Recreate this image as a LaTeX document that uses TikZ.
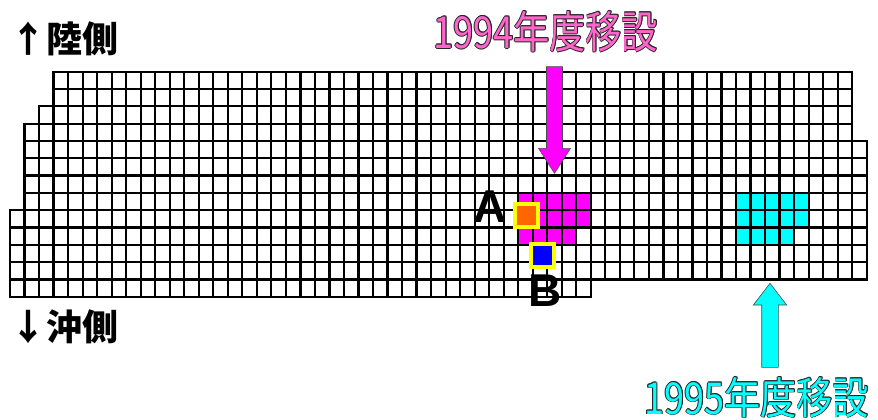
\documentclass[tikz,border=0pt]{standalone}
\usepackage{fontspec}
\setmainfont{Liberation Sans}
\newfontfamily\cjkfont[FakeStretch=0.82]{Noto Sans CJK JP}
\newfontfamily\sidefont{Noto Sans CJK JP}
\definecolor{magfill}{RGB}{255,0,255}
\definecolor{pinktext}{RGB}{255,102,204}
\definecolor{cyanfill}{RGB}{0,255,255}
\definecolor{orangefill}{RGB}{255,102,0}
\definecolor{yellowline}{RGB}{255,255,0}
\definecolor{bluefill}{RGB}{0,0,255}
\def\cw{14.52}
\def\ch{17.31}
\def\gx{10}
\def\gy{71.7}
\newcommand\outlinedlabel[4]{%
  \foreach \dx/\dy [count=\i] in {0.7/0,-0.7/0,0/0.7,0/-0.7,0.5/0.5,-0.5/0.5,0.5/-0.5,-0.5/-0.5}{
    \node[titletext, text=black!85] (#2s\i) at ([shift={(\dx,\dy)}]#1) {#4};
  }
  \node[titletext, text=#3] (#2) at (#1) {#4};
}
\tikzset{
  gridcell/.style={draw=black, line width=2.2pt},
  titletext/.style={inner sep=0pt, font=\cjkfont\fontsize{44}{44}\selectfont},
  sidetext/.style={inner sep=0pt, anchor=west, font=\sidefont\bfseries\fontsize{36}{36}\selectfont},
  bigletter/.style={inner sep=0pt, font=\bfseries\fontsize{46}{46}\selectfont},
  marksq/.style={draw=yellowline, line width=4pt, minimum size=23.3pt, inner sep=0pt},
  blockarrow/.style={draw=black!70, line width=0.6pt},
}
\begin{document}
\begin{tikzpicture}[x=1pt,y=-1pt]
\useasboundingbox (0,0) rectangle (878,420);
% coloured cells
\foreach \r/\a/\b in {7/35/39,8/35/39,9/35/38}{
  \foreach \k in {\a,...,\b}{
    \fill[magfill] ({\gx+\k*\cw},{\gy+\r*\ch}) rectangle ({\gx+(\k+1)*\cw},{\gy+(\r+1)*\ch});
  }
}
\foreach \r/\a/\b in {7/50/54,8/50/54,9/50/53}{
  \foreach \k in {\a,...,\b}{
    \fill[cyanfill] ({\gx+\k*\cw},{\gy+\r*\ch}) rectangle ({\gx+(\k+1)*\cw},{\gy+(\r+1)*\ch});
  }
}
% grid
\foreach \r/\L/\R in {0/3/58,1/3/58,2/2/58,3/1/58,4/1/59,5/1/59,6/1/59,7/1/59,8/0/59,9/0/59,10/0/59,11/0/59,12/0/40}{
  \pgfmathtruncatemacro\Rm{\R-1}
  \foreach \k in {\L,...,\Rm}{
    \draw[gridcell] ({\gx+\k*\cw},{\gy+\r*\ch}) rectangle ({\gx+(\k+1)*\cw},{\gy+(\r+1)*\ch});
  }
}
% block arrows
\fill[magfill, blockarrow] (546.5,66.7) -- (562.5,66.7) -- (562.5,148.3) -- (570.5,148.3) -- (554.5,173.3) -- (538.5,148.3) -- (546.5,148.3) -- cycle;
\fill[cyanfill, blockarrow] (761.7,367.3) -- (778.3,367.3) -- (778.3,305) -- (786.7,305) -- (770,283.3) -- (753.3,305) -- (761.7,305) -- cycle;
% marked squares
\node[marksq, fill=orangefill] (sqA) at (526.3,215.8) {};
\node[marksq, fill=bluefill] (sqB) at (542.2,255.8) {};
% letters
\node[bigletter] (labA) at (490,207) {A};
\node[bigletter] (labB) at (545,291) {B};
% titles
\outlinedlabel{545.8,31.7}{t94}{pinktext}{1994年度移設}
\outlinedlabel{756.7,397.5}{t95}{cyanfill}{1995年度移設}
% side labels
\node[sidetext] (land) at (10,39) {↑陸側};
\node[sidetext] (sea) at (10,327) {↓沖側};
\end{tikzpicture}
\end{document}
